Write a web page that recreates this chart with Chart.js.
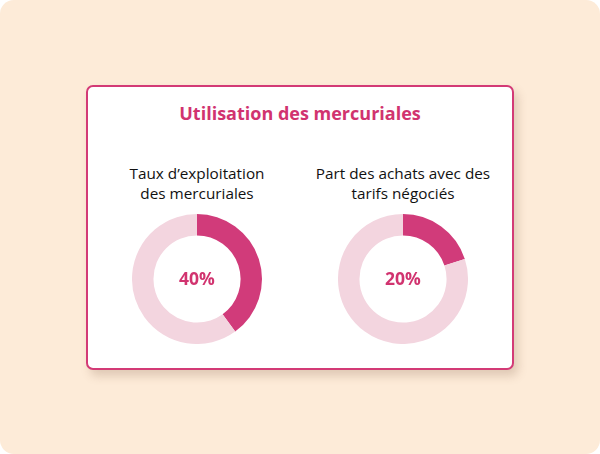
<!DOCTYPE html>
<html><head><meta charset="utf-8">
<script src="https://cdn.jsdelivr.net/npm/chart.js@4.4.0/dist/chart.umd.min.js"></script>
<style>
html,body{margin:0;padding:0;background:#fff;}
#bg{position:absolute;left:0;top:0;width:600px;height:454px;background:#fdebd8;border-radius:14px;overflow:hidden;font-family:"Open Sans",sans-serif;}
#card{position:absolute;left:86px;top:85px;width:424px;height:281px;background:#fff;border:2px solid #d33a76;border-radius:7px;box-shadow:4px 6px 10px rgba(120,80,60,0.22);}
#title{position:absolute;left:86px;top:101px;width:428px;text-align:center;color:#d1336f;font-weight:700;font-size:18px;line-height:24px;}
.sub{position:absolute;width:220px;text-align:center;color:#111;font-size:15.3px;line-height:20px;top:163px;}
.cv{position:absolute;width:130px;height:130px;top:214px;}
</style></head><body>
<div id="bg">
<div id="card"></div>
<div id="title">Utilisation des mercuriales</div>
<div class="sub" style="left:87px">Taux d’exploitation<br>des mercuriales</div>
<div class="sub" style="left:293px">Part des achats avec des<br>tarifs négociés</div>
<div class="cv" style="left:132px"><canvas id="c1"></canvas></div>
<div class="cv" style="left:338px"><canvas id="c2"></canvas></div>
</div>
<script>
const chartTitles = ["Taux d’exploitation des mercuriales", "Part des achats avec des tarifs négociés"];
const valuesLeft = [40, 60];
const valuesRight = [20, 80];
const segLabels = ["Oui", "Non"];
const centerPlugin = {
  id: 'center',
  afterDraw(chart) {
    const {ctx} = chart;
    const m = chart.getDatasetMeta(0).data[0];
    ctx.save();
    ctx.fillStyle = '#d1336f';
    ctx.font = '700 17.5px "Open Sans"';
    ctx.textAlign = 'center';
    ctx.textBaseline = 'middle';
    ctx.fillText(chart.data.datasets[0].data[0] + '%', m.x, m.y + 1);
    ctx.restore();
  }
};
function mk(id, vals) {
  new Chart(document.getElementById(id), {
    type: 'doughnut',
    data: { labels: segLabels, datasets: [{ data: vals, backgroundColor: ['#d13b7a', '#f3d5df'], borderWidth: 0 }] },
    options: {
      responsive: true, maintainAspectRatio: false, animation: false,
      cutout: '67%',
      layout: { padding: 0 },
      plugins: { legend: { display: false }, tooltip: { enabled: false } }
    },
    plugins: [centerPlugin]
  });
}
mk('c1', valuesLeft);
mk('c2', valuesRight);
</script>
</body></html>
